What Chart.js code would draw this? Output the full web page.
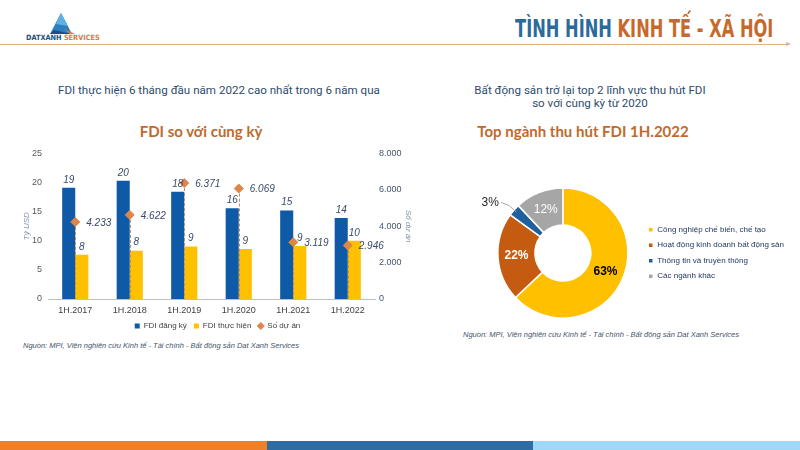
<!DOCTYPE html>
<html><head><meta charset="utf-8">
<script src="https://cdn.jsdelivr.net/npm/chart.js@4.4.0/dist/chart.umd.min.js"></script>
<style>
html,body{margin:0;padding:0;background:#fff;}
body{width:800px;height:450px;position:relative;overflow:hidden;font-family:'Liberation Sans',Arial,sans-serif;}
.abs{position:absolute;white-space:nowrap;}
.sub{font-family:Roboto,'Noto Sans',sans-serif;font-size:11.6px;line-height:13px;color:#2E4C6D;}
.ttl{font-family:Lato,'Open Sans',sans-serif;font-weight:bold;font-size:15px;line-height:18px;color:#BF6A2D;text-align:center;}
.src{font-family:'Liberation Sans',Arial,sans-serif;font-style:italic;font-size:7.5px;line-height:9px;color:#44546A;}
</style></head><body>

<!-- header -->
<svg class="abs" style="left:20px;top:10px" width="90" height="32" viewBox="0 0 90 32">
  <polygon points="41,3 30,24 52,24" fill="#2C7FC0"/>
  <polygon points="41,3 36,14 48,16" fill="#5FB0E6"/>
  <polygon points="34,20 52,24 30,24" fill="#1B4F8A"/>
  <polygon points="44,19 55,24 50,24" fill="#E07B39"/>
  <text x="6" y="30" font-family="Liberation Sans Narrow, DejaVu Sans Condensed, Arial" font-weight="bold" font-size="7.3" fill="#1F4E79">DATXANH <tspan fill="#E07B39">SERVICES</tspan></text>
</svg>
<div id="hdr" class="abs" style="right:27px;top:16px;font-family:'DejaVu Sans Condensed','Liberation Sans Narrow',Arial,sans-serif;font-weight:bold;font-size:24px;line-height:26px;color:#2B6A9B;transform-origin:right top;">TÌNH HÌNH <span style="color:#C8692C">KINH TẾ - XÃ HỘI</span></div>
<div class="abs" style="left:0;top:44px;width:788px;height:1px;background:#D9B48F;"></div>
<div class="abs" style="left:786px;top:42px;width:0;height:0;border-top:2.5px solid transparent;border-bottom:2.5px solid transparent;border-left:5px solid #D9B48F;"></div>

<!-- left texts -->
<div class="abs sub" style="left:58px;top:84px;">FDI thực hiện 6 tháng đầu năm 2022 cao nhất trong 6 năm qua</div>
<div class="abs ttl" style="left:51px;top:122px;width:300px;">FDI so với cùng kỳ</div>
<div class="abs src" style="left:23px;top:341px;">Nguồn: MPI, Viện nghiên cứu Kinh tế - Tài chính - Bất động sản Dat Xanh Services</div>

<!-- right texts -->
<div class="abs sub" style="left:440px;top:84px;width:300px;text-align:center;">Bất động sản trở lại top 2 lĩnh vực thu hút FDI<br>so với cùng kỳ từ 2020</div>
<div class="abs ttl" style="left:433px;top:122px;width:300px;">Top ngành thu hút FDI 1H.2022</div>
<div class="abs src" style="left:463px;top:330px;">Nguồn: MPI, Viện nghiên cứu Kinh tế - Tài chính - Bất động sản Dat Xanh Services</div>

<!-- footer bars -->
<div class="abs" style="left:0;top:441px;width:267px;height:9px;background:#F07F2A;"></div>
<div class="abs" style="left:267px;top:441px;width:266px;height:9px;background:#2E6DA4;"></div>
<div class="abs" style="left:533px;top:441px;width:267px;height:9px;background:#9DD9F7;"></div>

<div class="abs" style="left:15px;top:142px;width:405px;height:198px;"><canvas id="c1" width="405" height="198"></canvas></div>
<div class="abs" style="left:450px;top:170px;width:350px;height:170px;"><canvas id="c2" width="350" height="170"></canvas></div>

<script>
// ---- data ----
const categories = ['1H.2017','1H.2018','1H.2019','1H.2020','1H.2021','1H.2022'];
const fdiRegistered = [19.1, 20.3, 18.4, 15.6, 15.2, 13.9];
const fdiDisbursed = [7.6, 8.3, 9.0, 8.6, 9.1, 10.0];
const projectCount = [4233, 4622, 6371, 6069, 3119, 2946];
const leftTicks = [0, 5, 10, 15, 20, 25];
const rightTicks = [0, 2000, 4000, 6000, 8000];
const seriesNames = ['FDI đăng ký', 'FDI thực hiện', 'Số dự án'];

const sectors = ['Công nghiệp chế biến, chế tạo', 'Hoạt động kinh doanh bất động sản', 'Thông tin và truyền thông', 'Các ngành khác'];
const sectorShares = [63, 22, 3, 12];

const fmtDot = v => String(v).replace(/\B(?=(\d{3})+(?!\d))/g, '.');

// header fit
(function () {
  const h = document.getElementById('hdr');
  h.style.transform = 'scaleX(' + (258 / h.offsetWidth) + ')';
})();

// ---- left chart ----
const dropLines = {
  id: 'dropLines',
  beforeDatasetDraw(chart, args) {
    if (args.index !== 2) return;
    const ctx = chart.ctx;
    const y0 = chart.scales.y1.getPixelForValue(0);
    ctx.save();
    ctx.strokeStyle = '#C98A5E';
    ctx.lineWidth = 1;
    ctx.setLineDash([3, 2]);
    args.meta.data.forEach(p => {
      ctx.beginPath();
      ctx.moveTo(Math.round(p.x) + 0.5, p.y);
      ctx.lineTo(Math.round(p.x) + 0.5, y0);
      ctx.stroke();
    });
    ctx.restore();
  }
};
const barLabels = {
  id: 'barLabels',
  afterDatasetsDraw(chart) {
    const ctx = chart.ctx;
    ctx.save();
    ctx.font = 'italic 10px "Liberation Sans", Arial, sans-serif';
    ctx.fillStyle = '#3B4A66';
    [0, 1].forEach(di => {
      const meta = chart.getDatasetMeta(di);
      ctx.textAlign = 'center';
      ctx.textBaseline = 'bottom';
      meta.data.forEach((b, i) => {
        ctx.fillText(String(Math.round(chart.data.datasets[di].data[i])), b.x, b.y - 3);
      });
    });
    const m2 = chart.getDatasetMeta(2);
    ctx.textAlign = 'left';
    ctx.textBaseline = 'middle';
    m2.data.forEach((p, i) => {
      ctx.fillText(fmtDot(projectCount[i]), p.x + 11, p.y + 1);
    });
    ctx.restore();
  }
};

new Chart(document.getElementById('c1'), {
  data: {
    labels: categories,
    datasets: [
      { type: 'bar', label: seriesNames[0], data: fdiRegistered, backgroundColor: '#0F5AA6', yAxisID: 'y', order: 1,
        barPercentage: 1, categoryPercentage: 0.48, pointStyle: 'rect' },
      { type: 'bar', label: seriesNames[1], data: fdiDisbursed, backgroundColor: '#FFC000', yAxisID: 'y', order: 1,
        barPercentage: 1, categoryPercentage: 0.48, pointStyle: 'rect' },
      { type: 'line', label: seriesNames[2], data: projectCount, yAxisID: 'y1', order: 0, showLine: false,
        pointStyle: 'rectRot', pointRadius: 4.5, pointBackgroundColor: '#E0854A', pointBorderColor: '#E0854A',
        backgroundColor: '#E0854A', borderColor: '#E0854A' }
    ]
  },
  options: {
    responsive: false, animation: false, devicePixelRatio: 1,
    layout: { padding: { top: 4, left: 0, right: 0, bottom: 0 } },
    plugins: {
      tooltip: { enabled: false },
      legend: { position: 'bottom', labels: { usePointStyle: true, boxWidth: 5, boxHeight: 5, padding: 7,
        sort: (a, b) => a.datasetIndex - b.datasetIndex,
        color: '#404040', font: { size: 8, family: '"Liberation Sans", Arial, sans-serif' } } }
    },
    scales: {
      x: { grid: { display: false, drawTicks: false }, border: { display: true, color: '#BFBFBF', width: 1 },
        ticks: { color: '#404040', font: { size: 9, family: '"Liberation Sans", Arial' }, padding: 6 },
        afterFit(s) { s.height = 16; } },
      y: { position: 'left', min: 0, max: 25, grid: { display: false, drawTicks: false }, border: { display: false },
        afterBuildTicks(s) { s.ticks = leftTicks.map(v => ({ value: v })); },
        ticks: { color: '#595959', font: { size: 9, family: '"Liberation Sans", Arial' }, padding: 6 },
        title: { display: true, text: 'Tỷ USD', color: '#8497B0', padding: { top: 7, bottom: 0 }, font: { size: 8, style: 'italic', family: '"Liberation Sans", Arial' } },
        afterFit(s) { s.width = 33; } },
      y1: { position: 'right', min: 0, max: 8000, grid: { display: false, drawTicks: false }, border: { display: false },
        afterBuildTicks(s) { s.ticks = rightTicks.map(v => ({ value: v })); },
        ticks: { color: '#44546A', font: { size: 9, family: '"Liberation Sans", Arial' }, padding: 4, callback: v => fmtDot(v) },
        title: { display: true, text: 'Số dự án', color: '#8497B0', padding: { top: 7, bottom: 0 }, font: { size: 8, style: 'italic', family: '"Liberation Sans", Arial' } },
        afterFit(s) { s.width = 45; } }
    }
  },
  plugins: [dropLines, barLabels]
});

// ---- right chart ----
const pieLabels = {
  id: 'pieLabels',
  afterDatasetsDraw(chart) {
    const ctx = chart.ctx;
    const meta = chart.getDatasetMeta(0);
    ctx.save();
    ctx.textAlign = 'center';
    ctx.textBaseline = 'middle';
    meta.data.forEach((a, i) => {
      const mid = (a.startAngle + a.endAngle) / 2;
      const txt = sectorShares[i] + '%';
      if (i === 2) {
        const p0x = a.x + Math.cos(mid) * (a.outerRadius - 3), p0y = a.y + Math.sin(mid) * (a.outerRadius - 3);
        const p1x = a.x + Math.cos(mid) * (a.outerRadius + 7), p1y = a.y + Math.sin(mid) * (a.outerRadius + 7);
        const p2x = p1x - 8, p2y = p1y - 3;
        ctx.strokeStyle = '#A6A6A6'; ctx.lineWidth = 1;
        ctx.beginPath(); ctx.moveTo(p0x, p0y); ctx.lineTo(p1x, p1y); ctx.lineTo(p2x, p2y); ctx.stroke();
        ctx.font = '12px "Liberation Sans", Arial';
        ctx.fillStyle = '#262626';
        ctx.textAlign = 'right';
        ctx.fillText(txt, p2x - 2, p2y);
        ctx.textAlign = 'center';
        return;
      }
      const r = (a.innerRadius + a.outerRadius) / 2;
      const x = a.x + Math.cos(mid) * r, y = a.y + Math.sin(mid) * r;
      ctx.font = (i === 3 ? '' : 'bold ') + '12px "Liberation Sans", Arial';
      ctx.fillStyle = i === 0 ? '#000000' : '#FFFFFF';
      ctx.fillText(txt, x, y);
    });
    ctx.restore();
  }
};

new Chart(document.getElementById('c2'), {
  type: 'doughnut',
  data: {
    labels: sectors,
    datasets: [{ data: sectorShares, backgroundColor: ['#FFC000', '#C55A11', '#1F5F9E', '#A6A6A6'],
      borderColor: '#FFFFFF', borderWidth: 1.5, hoverOffset: 0 }]
  },
  options: {
    responsive: false, animation: false, devicePixelRatio: 1,
    cutout: '43%', radius: 65,
    layout: { padding: { top: 18, bottom: 22, left: 35, right: 6 } },
    plugins: {
      tooltip: { enabled: false },
      legend: { position: 'right', align: 'center', maxWidth: 200, labels: { boxWidth: 5, boxHeight: 5, padding: 7.5,
        color: '#203864', font: { size: 8, family: '"Liberation Sans", Arial' } } }
    }
  },
  plugins: [pieLabels]
});
</script>
</body></html>
